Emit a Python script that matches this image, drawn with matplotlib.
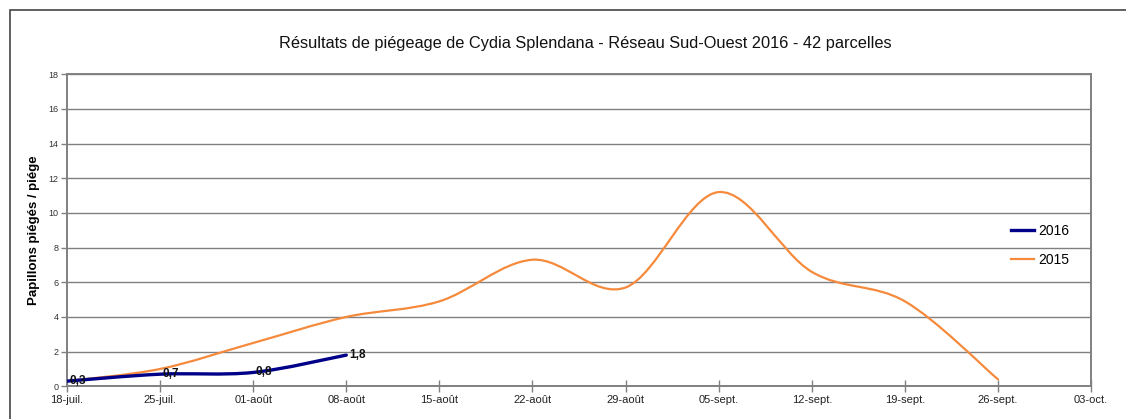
import datetime as dt

import matplotlib
matplotlib.use('Agg')
import matplotlib.pyplot as plt
import matplotlib.dates as mdates
from matplotlib.path import Path
from matplotlib.patches import PathPatch, Rectangle
from matplotlib.lines import Line2D

plt.rcParams['font.family'] = ['Liberation Sans', 'DejaVu Sans']

# --- data -------------------------------------------------------------------
dates_2015 = ['2016-07-18', '2016-07-25', '2016-08-01', '2016-08-08', '2016-08-15',
              '2016-08-22', '2016-08-29', '2016-09-05', '2016-09-12', '2016-09-19',
              '2016-09-26']
values_2015 = [0.3, 1.0, 2.5, 4.0, 4.9, 7.3, 5.7, 11.2, 6.6, 4.9, 0.4]

dates_2016 = ['2016-07-18', '2016-07-25', '2016-08-01', '2016-08-08']
values_2016 = [0.3, 0.7, 0.8, 1.8]
labels_2016 = ['0,3', '0,7', '0,8', '1,8']

tick_dates = ['2016-07-18', '2016-07-25', '2016-08-01', '2016-08-08', '2016-08-15',
              '2016-08-22', '2016-08-29', '2016-09-05', '2016-09-12', '2016-09-19',
              '2016-09-26', '2016-10-03']
tick_labels = ['18-juil.', '25-juil.', '01-août', '08-août', '15-août', '22-août',
               '29-août', '05-sept.', '12-sept.', '19-sept.', '26-sept.', '03-oct.']

COL_2015 = '#f58a3c'
COL_2016 = '#000088'
GRID = '#808080'


def to_num(ds):
    return [mdates.date2num(dt.date.fromisoformat(d)) for d in ds]


def smooth_path(xs, ys):
    # Excel-like smoothed line: cubic Bezier segments (Catmull-Rom tangents)
    pts = list(zip(xs, ys))
    verts = [pts[0]]
    codes = [Path.MOVETO]
    n = len(pts)
    for i in range(n - 1):
        p0 = pts[i - 1] if i > 0 else pts[i]
        p1 = pts[i]
        p2 = pts[i + 1]
        p3 = pts[i + 2] if i + 2 < n else pts[i + 1]
        c1 = (p1[0] + (p2[0] - p0[0]) / 6, p1[1] + (p2[1] - p0[1]) / 6)
        c2 = (p2[0] - (p3[0] - p1[0]) / 6, p2[1] - (p3[1] - p1[1]) / 6)
        verts += [c1, c2, p2]
        codes += [Path.CURVE4] * 3
    return Path(verts, codes)


fig = plt.figure(figsize=(11.26, 4.19), dpi=100)
ax = fig.add_axes([0.0595, 0.078, 0.9095, 0.745])

x15 = to_num(dates_2015)
x16 = to_num(dates_2016)
ticks = to_num(tick_dates)

ax.add_patch(PathPatch(smooth_path(x15, values_2015), facecolor='none',
                       edgecolor=COL_2015, lw=1.6, zorder=3, capstyle='round'))
ax.add_patch(PathPatch(smooth_path(x16, values_2016), facecolor='none',
                       edgecolor=COL_2016, lw=2.4, zorder=4, capstyle='round'))

for x, y, lab in zip(x16, values_2016, labels_2016):
    ax.annotate(lab, (x, y), xytext=(2, 0), textcoords='offset points',
                ha='left', va='center', fontsize=8.5, fontweight='bold',
                color='#111111', zorder=5)

ax.set_xlim(ticks[0], ticks[-1])
ax.set_ylim(0, 18)
ax.set_yticks(range(0, 19, 2))
ax.set_xticks(ticks)
ax.set_xticklabels(tick_labels, fontsize=8, color='#222222')
ax.tick_params(axis='x', direction='inout', length=9, width=1, color=GRID, pad=2)
ax.tick_params(axis='y', direction='out', length=4, width=1, color=GRID,
               labelsize=6.5, labelcolor='#333333', pad=2)

ax.yaxis.grid(True, color=GRID, lw=1)
ax.set_axisbelow(True)
for side in ['left', 'bottom', 'right', 'top']:
    ax.spines[side].set_color(GRID)
    ax.spines[side].set_linewidth(1.4)

ax.set_ylabel('Papillons piégés / piége', fontsize=9.5, fontweight='bold', labelpad=6)

handles = [Line2D([], [], color=COL_2016, lw=2.4), Line2D([], [], color=COL_2015, lw=1.6)]
ax.legend(handles, ['2016', '2015'], loc='center left', bbox_to_anchor=(0.91, 0.452),
          frameon=False, fontsize=10, handlelength=1.6, handletextpad=0.3,
          labelspacing=1.1)

fig.text(0.52, 0.897, 'Résultats de piégeage de Cydia Splendana - Réseau Sud-Ouest 2016 - 42 parcelles',
         ha='center', va='center', fontsize=11.8, color='#111111')

# outer chart frame (only left and top edges are inside the image)
fig.patches.append(Rectangle((10 / 1126, -0.1), 1.2, (409 / 419) + 0.1,
                             transform=fig.transFigure, fill=False,
                             edgecolor='#444444', lw=1.2))

fig.savefig('out.png', dpi=100)
